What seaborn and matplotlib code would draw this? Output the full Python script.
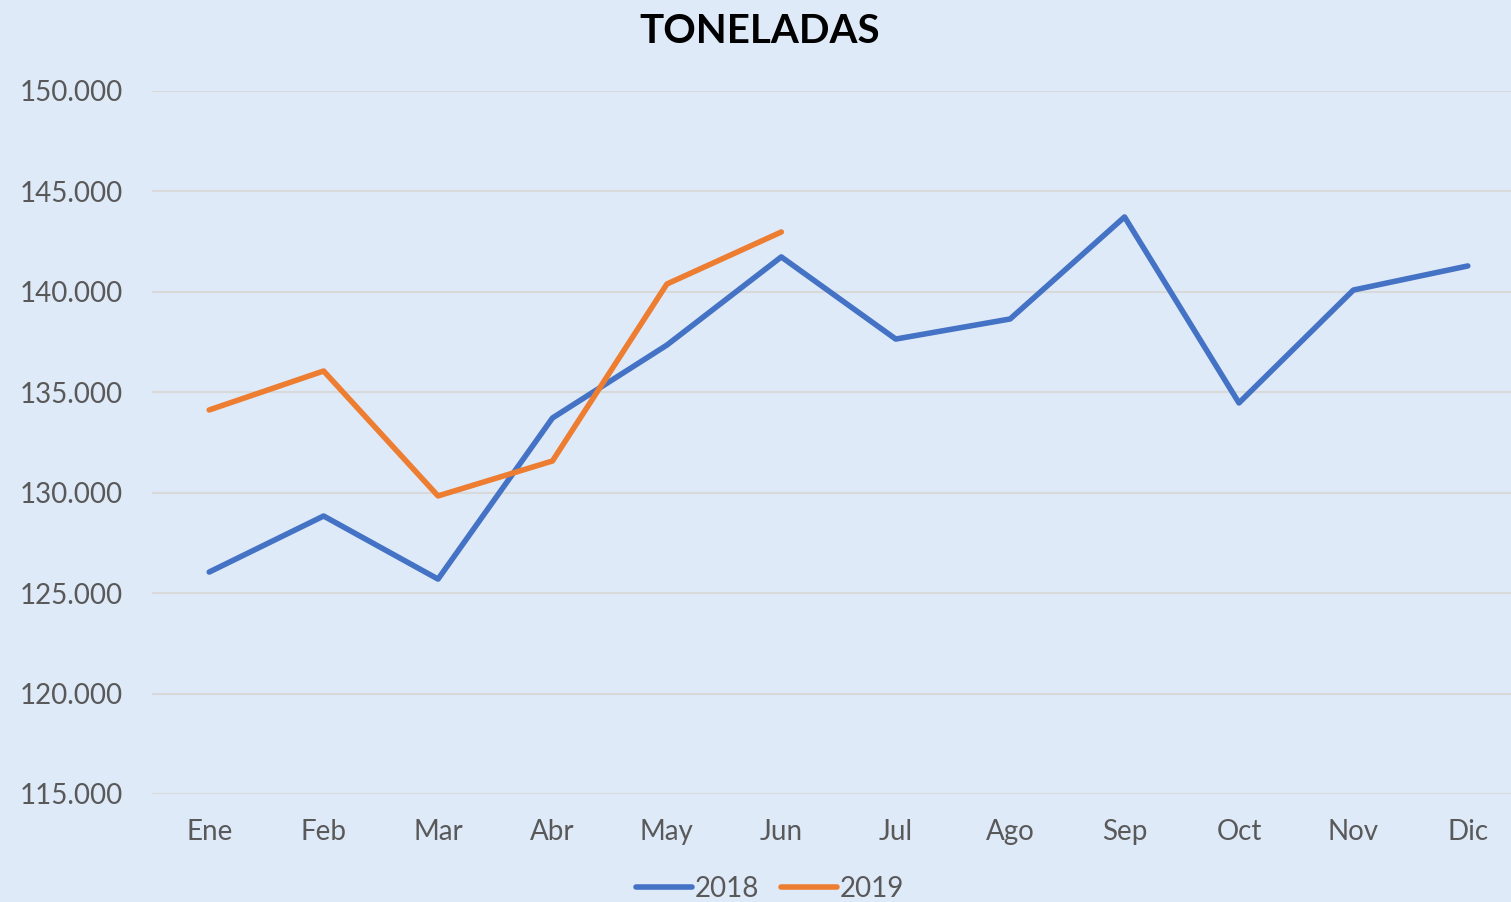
import matplotlib
matplotlib.use("Agg")
import matplotlib.pyplot as plt
import seaborn as sns
import pandas as pd
from matplotlib.ticker import FuncFormatter

months = ["Ene", "Feb", "Mar", "Abr", "May", "Jun", "Jul", "Ago", "Sep", "Oct", "Nov", "Dic"]
vals_2018 = [126050, 128840, 125700, 133720, 137350, 141740, 137650, 138650, 143730, 134470, 140090, 141290]
vals_2019 = [134120, 136060, 129840, 131580, 140390, 142980]
yticks = [115000, 120000, 125000, 130000, 135000, 140000, 145000, 150000]

bg = "#DFEAF9"
txt = "#595959"

sns.set_theme(style="white")
plt.rcParams["font.family"] = ["Lato", "DejaVu Sans"]

df = pd.concat([
    pd.DataFrame({"Mes": months, "Valor": vals_2018, "Año": "2018"}),
    pd.DataFrame({"Mes": months[:len(vals_2019)], "Valor": vals_2019, "Año": "2019"}),
])

fig = plt.figure(figsize=(15.11, 9.02), dpi=100, facecolor=bg)
ax = fig.add_axes([152/1511, 1 - 794/902, 1373/1511, (794-91)/902])
ax.set_facecolor(bg)

sns.lineplot(data=df, x="Mes", y="Valor", hue="Año", palette=["#4472C4", "#ED7D31"],
             linewidth=4, ax=ax, sort=False, legend=True)

ax.set_xlim(-0.5, 11.5)
ax.set_ylim(115000, 150000)
ax.set_yticks(yticks)
ax.yaxis.set_major_formatter(FuncFormatter(lambda v, p: f"{int(v):,}".replace(",", ".")))
ax.grid(axis="y", color="#D9D9D9", linewidth=1.5)
ax.set_axisbelow(True)
for s in ax.spines.values():
    s.set_visible(False)
ax.tick_params(axis="both", length=0, labelsize=20, colors=txt)
ax.tick_params(axis="y", pad=21)
ax.tick_params(axis="x", pad=18)
ax.set_xlabel("")
ax.set_ylabel("")

fig.suptitle("TONELADAS", x=760/1511, y=1 - 13/902, va="top", fontsize=29, fontweight="bold", color="black")

leg = ax.legend(loc="center", bbox_to_anchor=(770/1511, 1 - 889/902), bbox_transform=fig.transFigure,
                ncol=2, frameon=False, fontsize=20, handlelength=2.0, columnspacing=0.8,
                handletextpad=0.1, labelcolor=txt)
for l in leg.get_lines():
    l.set_linewidth(4)

fig.savefig("out.png", dpi=100, facecolor=bg)
